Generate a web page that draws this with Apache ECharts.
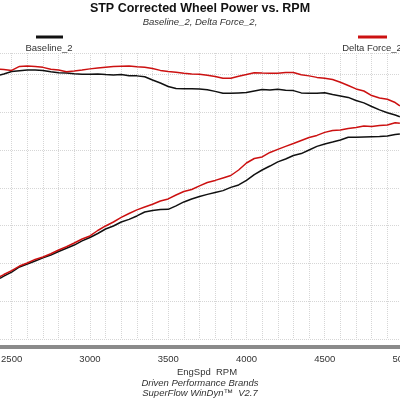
<!DOCTYPE html>
<html>
<head>
<meta charset="utf-8">
<script src="https://cdn.jsdelivr.net/npm/echarts@6/dist/echarts.min.js"></script>
<style>
html, body { margin: 0; padding: 0; background: #fff; }
#chart { width: 400px; height: 400px; }
</style>
</head>
<body>
<div id="chart"></div>
<script>
// engine speed, rpm
var rpm = [2425, 2450, 2500, 2550, 2600, 2650, 2700, 2750, 2800, 2850,
	2900, 2950, 3000, 3050, 3100, 3150, 3200, 3250, 3300, 3350,
	3400, 3450, 3500, 3550, 3600, 3650, 3700, 3750, 3800, 3850,
	3900, 3950, 4000, 4050, 4100, 4150, 4200, 4250, 4300, 4350,
	4400, 4450, 4500, 4550, 4600, 4650, 4700, 4750, 4800, 4850,
	4900, 4950, 4980];

// upper pair of curves
var deltaTop = [202.7, 202.6, 202.1, 204.2, 204.4, 204.2, 203.7, 202.7, 202.3, 201.4,
	201.8, 202.3, 202.9, 203.4, 203.8, 204.1, 204.3, 204.4, 204.0, 203.7,
	203.1, 202.1, 201.5, 201.1, 200.6, 200.2, 200.1, 199.5, 198.9, 197.9,
	197.9, 199.0, 199.9, 200.9, 200.7, 200.6, 200.6, 201.0, 201.0, 199.8,
	199.2, 198.4, 198.0, 197.3, 195.8, 194.1, 192.3, 191.2, 188.8, 187.5,
	186.8, 185.1, 183.3];
var baseTop = [199.7, 200.2, 201.5, 201.9, 202.3, 202.3, 202.1, 201.4, 200.9, 200.7,
	200.3, 200.1, 200.1, 200.2, 199.9, 199.7, 199.9, 199.3, 199.2, 198.7,
	197.0, 195.4, 193.6, 192.5, 192.4, 192.4, 192.3, 191.9, 191.0, 190.0,
	190.0, 190.2, 190.4, 191.2, 192.0, 191.7, 192.1, 191.6, 191.4, 190.2,
	190.0, 190.0, 190.3, 189.3, 188.6, 187.8, 186.2, 184.9, 183.0, 181.2,
	179.7, 178.5, 177.6];

// lower pair of curves
var deltaLow = [93.0, 94.1, 96.2, 98.6, 100.2, 102.1, 103.4, 105.1, 107.1, 108.8,
	110.8, 112.9, 114.5, 117.4, 119.8, 121.9, 124.3, 126.4, 128.3, 129.8,
	131.3, 133.0, 134.1, 136.2, 138.0, 139.1, 141.0, 142.8, 143.9, 145.2,
	146.5, 149.4, 153.1, 155.5, 156.3, 158.7, 160.3, 161.9, 163.4, 165.0,
	166.6, 167.7, 169.3, 170.3, 170.6, 171.4, 171.9, 172.7, 172.4, 173.0,
	173.2, 174.4, 174.1];
var baseLow = [92.1, 93.3, 95.4, 98.1, 99.7, 101.3, 102.9, 104.4, 106.3, 108.0,
	109.7, 111.9, 113.7, 115.8, 118.2, 119.8, 121.9, 123.3, 125.1, 127.2,
	128.0, 128.5, 128.6, 130.4, 132.5, 134.1, 135.4, 136.5, 137.5, 138.5,
	140.2, 141.5, 143.9, 147.0, 149.4, 151.5, 153.7, 155.2, 157.1, 158.1,
	160.0, 161.9, 163.2, 164.2, 165.3, 166.7, 166.7, 166.9, 167.0, 167.1,
	167.4, 168.2, 168.5];

var BLACK = '#111111';
var RED = '#cc1111';
var FONT = 'Liberation Sans, Arial, sans-serif';

function pairs(vals) {
	return rpm.map(function(r, i) { return [r, vals[i]]; });
}

function line(name, vals, color) {
	return {
		name: name,
		type: 'line',
		data: pairs(vals),
		showSymbol: false,
		silent: true,
		lineStyle: { color: color, width: 1.5 },
		itemStyle: { color: color }
	};
}

function label(text, x, y, font) {
	return { type: 'text', x: x, y: y, style: { text: text, font: font, fill: '#333', align: 'center', verticalAlign: 'middle' } };
}

var chart = echarts.init(document.getElementById('chart'));
chart.setOption({
	animation: false,
	backgroundColor: '#fff',
	textStyle: { fontFamily: FONT },
	grid: { left: -4, right: -3, top: 53, bottom: 61, outerBoundsMode: 'none', containLabel: false },
	xAxis: {
		type: 'value',
		min: 2400,
		max: 5000,
		interval: 100,
		offset: 8,
		axisLine: { show: true, lineStyle: { color: '#8a8a8a', width: 4 } },
		axisTick: { show: false },
		axisLabel: {
			margin: 7,
			color: '#333',
			fontSize: 9.5,
			fontFamily: FONT,
			formatter: function(v) { return v % 500 === 0 ? String(v) : ''; }
		},
		splitLine: { show: true, lineStyle: { color: '#d6d6d6', type: 'dotted', width: 1 } }
	},
	yAxis: {
		type: 'value',
		min: 60,
		max: 211.3,
		interval: 20,
		axisLine: { show: false },
		axisTick: { show: false },
		axisLabel: { show: false },
		splitLine: { show: true, lineStyle: { color: '#d6d6d6', type: 'dotted', width: 1 } }
	},
	series: [
		line('Baseline_2 top', baseTop, BLACK),
		line('Delta Force_2 top', deltaTop, RED),
		line('Baseline_2', baseLow, BLACK),
		line('Delta Force_2', deltaLow, RED)
	],
	graphic: [
		{ type: 'text', x: 200, y: 8.5, style: { text: 'STP Corrected Wheel Power vs. RPM', font: 'bold 12.5px ' + FONT, fill: '#111', align: 'center', verticalAlign: 'middle' } },
		label('Baseline_2, Delta Force_2,', 200, 22, 'italic 9.5px ' + FONT),
		{ type: 'rect', shape: { x: 36, y: 35.5, width: 27, height: 3 }, style: { fill: BLACK } },
		label('Baseline_2', 49, 48, '9.5px ' + FONT),
		{ type: 'rect', shape: { x: 358, y: 35.5, width: 29, height: 3 }, style: { fill: RED } },
		label('Delta Force_2', 372, 48, '9.5px ' + FONT),
		label('EngSpd  RPM', 207, 372, '9.5px ' + FONT),
		label('Driven Performance Brands', 200, 383, 'italic 9.5px ' + FONT),
		label('SuperFlow WinDyn\u2122  V2.7', 200, 393.5, 'italic 9.5px ' + FONT)
	]
});
</script>
</body>
</html>
